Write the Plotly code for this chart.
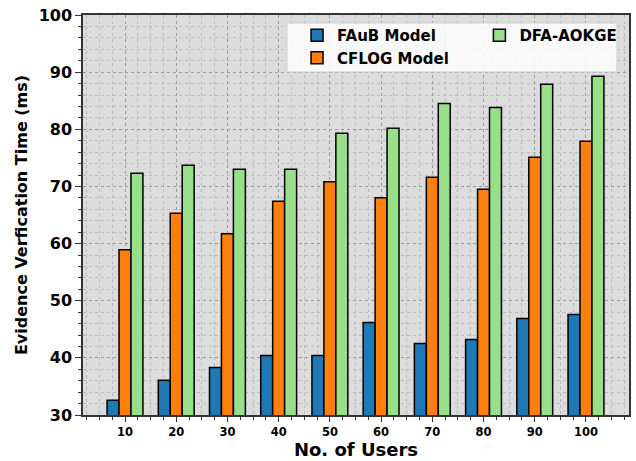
import plotly.graph_objects as go

users = [10, 20, 30, 40, 50, 60, 70, 80, 90, 100]
faub = [32.6, 36.1, 38.3, 40.4, 40.4, 46.2, 42.5, 43.2, 46.9, 47.6]
cflog = [58.9, 65.3, 61.7, 67.4, 70.8, 68.0, 71.6, 69.5, 75.1, 77.9]
dfa = [72.3, 73.7, 73.0, 73.0, 79.3, 80.2, 84.5, 83.8, 87.9, 89.3]
series_names = ["FAuB Model", "CFLOG Model", "DFA-AOKGE"]
colors = ["#1f77b4", "#ff7f0e", "#98df8a"]
legend_ids = ["legend", "legend", "legend2"]

fig = go.Figure()
for i, (name, vals, col, lg) in enumerate(zip(series_names, [faub, cflog, dfa], colors, legend_ids)):
    fig.add_trace(go.Bar(
        x=users, y=vals, name=name, legend=lg, legendgroup=f"g{i}",
        marker=dict(color=col, line=dict(color="black", width=1.5)),
    ))

font = "DejaVu Sans"
legend_font = dict(family=font, size=15, color="black", weight="bold")

# shared legend frame (matplotlib-style box behind both legend columns)
fig.add_shape(type="rect", xref="paper", yref="paper",
              x0=0.3736, x1=0.978, y0=0.8575, y1=0.98,
              fillcolor="rgba(255,255,255,0.82)", line=dict(color="#cfcfcf", width=1),
              layer="above")

fig.update_layout(
    width=636, height=461,
    margin=dict(l=83, r=7, t=15, b=46, autoexpand=False),
    paper_bgcolor="white", plot_bgcolor="#dcdcdc",
    barmode="group", bargap=0.3, bargroupgap=0,
    font=dict(family=font, color="black"),
    legend=dict(
        orientation="v", x=0.392, y=0.99, xanchor="left", yanchor="top",
        bgcolor="rgba(0,0,0,0)", borderwidth=0, font=legend_font,
        tracegroupgap=1, traceorder="normal",
    ),
    legend2=dict(
        orientation="v", x=0.726, y=0.99, xanchor="left", yanchor="top",
        bgcolor="rgba(0,0,0,0)", borderwidth=0, font=legend_font,
    ),
    xaxis=dict(
        range=[1.8, 108.4], tickmode="array", tickvals=users,
        ticktext=[str(u) for u in users],
        tickfont=dict(family=font, size=11.5, weight="bold"),
        ticks="outside", ticklen=5, tickcolor="#333",
        showline=True, linecolor="#333", linewidth=1.5, mirror=True,
        showgrid=True, gridcolor="#999999", griddash="dot", gridwidth=1,
        minor=dict(dtick=2.5, tick0=0, ticks="outside", ticklen=3, tickcolor="#333",
                   showgrid=True, gridcolor="#bbbbbb", griddash="dot", gridwidth=1),
        title=dict(text="<b>No. of Users</b>", font=dict(family=font, size=18), standoff=3),
        zeroline=False, automargin=False,
    ),
    yaxis=dict(
        range=[30, 100], dtick=10, tick0=0,
        tickfont=dict(family=font, size=16, weight="bold"),
        ticks="outside", ticklen=6, tickcolor="#333",
        showline=True, linecolor="#333", linewidth=1.5, mirror=True,
        showgrid=True, gridcolor="#999999", griddash="dot", gridwidth=1,
        minor=dict(dtick=2, ticks="outside", ticklen=3, tickcolor="#333",
                   showgrid=True, gridcolor="#bbbbbb", griddash="dot", gridwidth=1),
        title=dict(text="<b>Evidence Verfication Time (ms)</b>", font=dict(family=font, size=16), standoff=7),
        zeroline=False, automargin=False,
    ),
)

fig.write_html("out.html", config={"displayModeBar": False},
               post_script="document.body.style.margin='0';document.body.style.overflow='hidden';")
